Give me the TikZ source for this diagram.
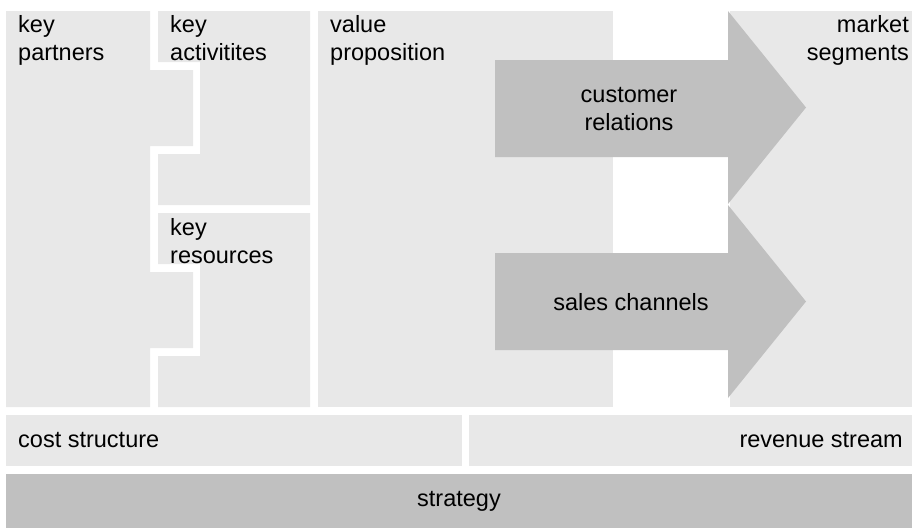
\documentclass[tikz,border=0pt]{standalone}
\usepackage{fontspec}
\setmainfont{Liberation Sans}
\usepackage{tikz}
\usepackage{xcolor}
\definecolor{panelgray}{RGB}{232,232,232}
\definecolor{arrowgray}{RGB}{192,192,192}

\begin{document}
\begin{tikzpicture}[x=1pt,y=-1pt,
  panel/.style={fill=panelgray,draw=none},
  flow/.style={fill=arrowgray,draw=none},
  caption/.style={inner sep=0pt,font=\fontsize{23.5}{28}\selectfont}]
\useasboundingbox (0,0) rectangle (912,528);
\fill[panel] (6,11) -- (150,11) -- (150,70) -- (193,70) -- (193,146) -- (150,146) -- (150,272) -- (193,272) -- (193,348) -- (150,348) -- (150,407) -- (6,407) -- cycle;
\fill[panel] (158,11) -- (310,11) -- (310,205) -- (158,205) -- (158,154) -- (200,154) -- (200,62) -- (158,62) -- cycle;
\fill[panel] (158,213) -- (310,213) -- (310,407) -- (158,407) -- (158,356) -- (200,356) -- (200,264) -- (158,264) -- cycle;
\fill[panel] (318,11) rectangle (613,407);
\fill[panel] (730,11) rectangle (912,407);
\fill[flow] (495,60) -- (728,60) -- (728,11) -- (806,107.5) -- (728,204) -- (728,157) -- (495,157) -- cycle;
\fill[flow] (495,253) -- (728,253) -- (728,205) -- (806,301.5) -- (728,398) -- (728,350) -- (495,350) -- cycle;
\fill[panel] (6,415) rectangle (462,466);
\fill[panel] (469,415) rectangle (912,466);
\fill[flow] (6,474) rectangle (912,528);
\node[caption,anchor=north west,align=left] (partners) at (18,15) {key\\partners};
\node[caption,anchor=north west,align=left] (activities) at (170,15) {key\\activitites};
\node[caption,anchor=north west,align=left] (resources) at (170,218) {key\\resources};
\node[caption,anchor=north west,align=left] (proposition) at (330,15) {value\\proposition};
\node[caption,anchor=north east,align=right] (segments) at (909,15) {market\\segments};
\node[caption,align=center] (relations) at (629,109) {customer\\relations};
\node[caption] (channels) at (631,302) {sales channels};
\node[caption,anchor=west] (cost) at (18,440.5) {cost structure};
\node[caption,anchor=east] (revenue) at (903,440.5) {revenue stream};
\node[caption] (strategy) at (459,501) {strategy};
\end{tikzpicture}
\end{document}
